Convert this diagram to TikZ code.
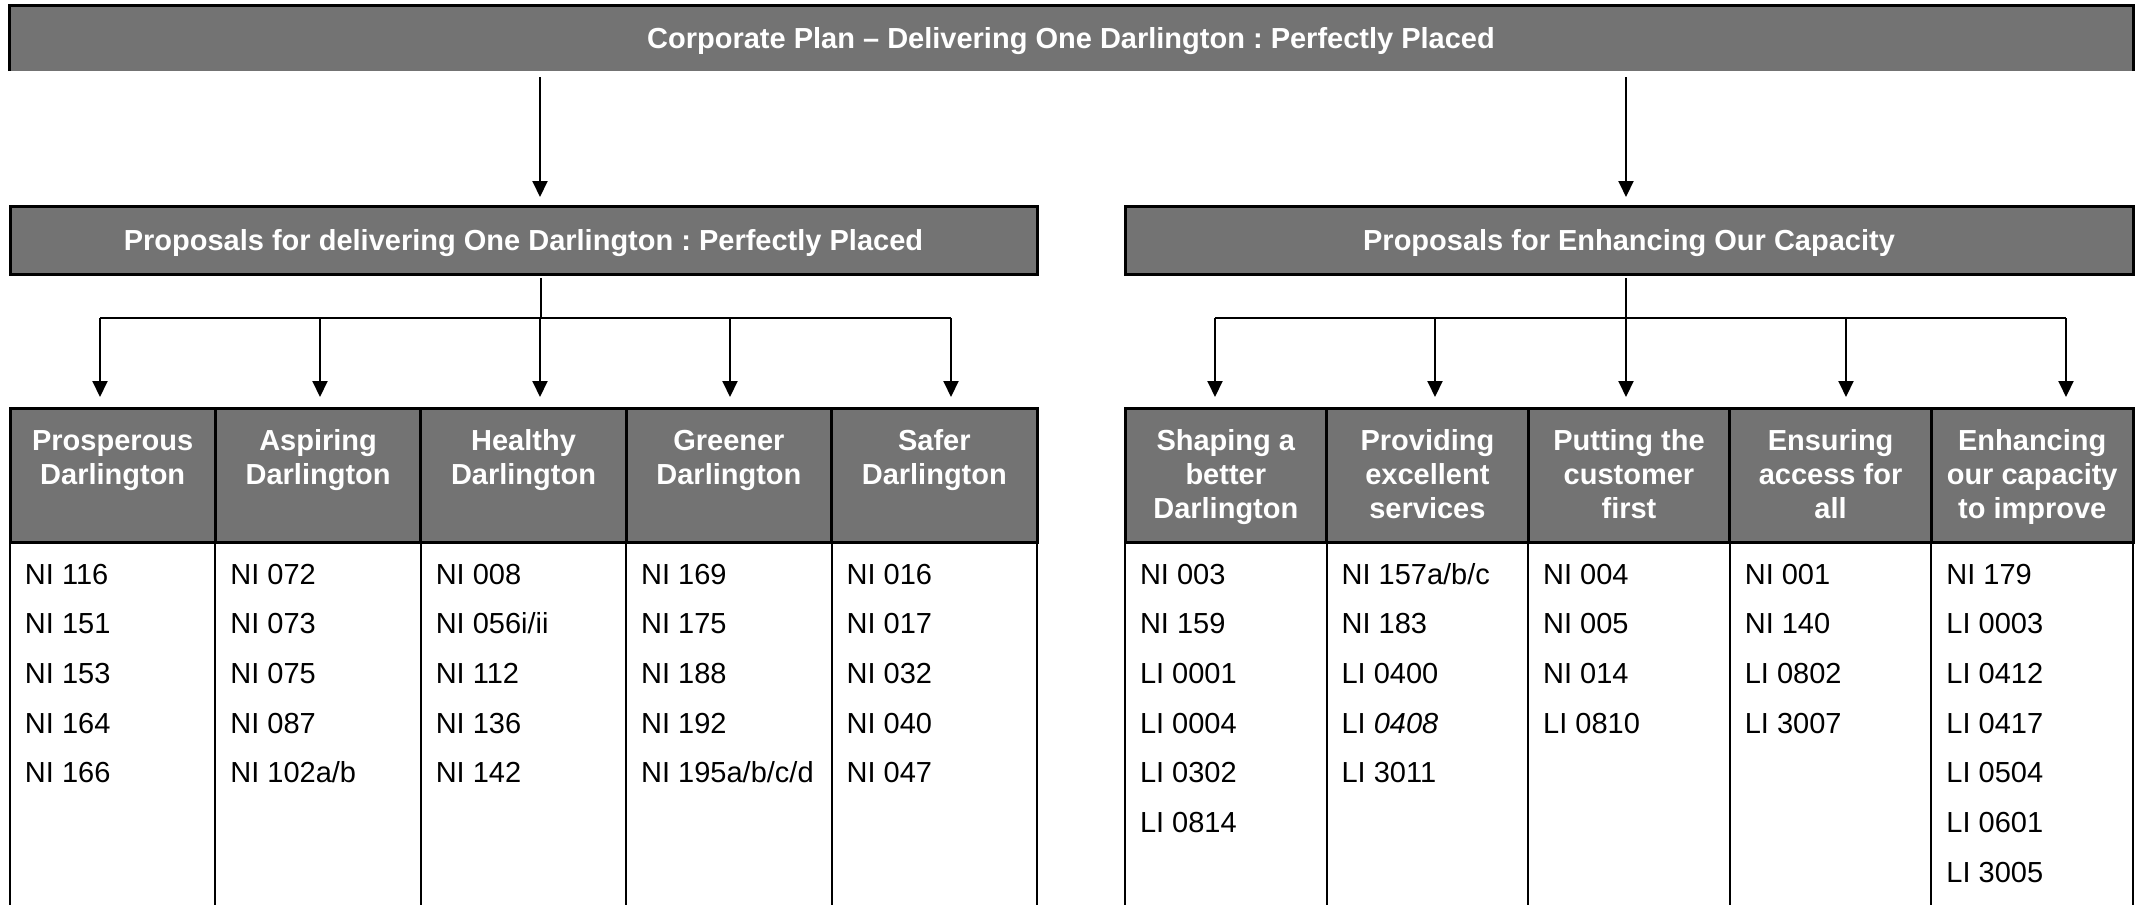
\documentclass[tikz,border=0pt]{standalone}
\usepackage{fontspec}
\setmainfont{Liberation Sans}
\usetikzlibrary{positioning, arrows.meta}
\definecolor{plan}{RGB}{115,115,115}
\frenchspacing

\newcommand{\hdtext}[2]{\parbox[c][67pt][t]{#1}{\centering\rule{0pt}{21pt}#2}}

\begin{document}
\begin{tikzpicture}[x=0.5pt, y=-0.5pt, font=\fontsize{14.5}{17}\selectfont,
  bar/.style={fill=plan, text=white, font=\fontsize{14.5}{17}\selectfont\bfseries, inner sep=0pt, outer sep=0pt},
  prop/.style={bar, draw, line width=1.5pt, minimum height=34pt, text depth=0pt},
  hd/.style={bar, draw, line width=1.5pt},
  idx/.style={align=left, inner sep=0pt, outer sep=0pt, font=\fontsize{14.5}{24.85}\selectfont},
  ln/.style={line width=1pt},
  arr/.style={ln, -{Triangle[length=8pt, width=7.5pt]}},
  node distance=0pt]

\useasboundingbox (0,0) rectangle (2143,905);

\node[bar, minimum width=1062pt, minimum height=33pt, text depth=0pt] at (1071,38) (plan) {Corporate Plan – Delivering One Darlington : Perfectly Placed};
\draw[line width=1.5pt] (plan.south west) |- (plan.north east) -- (plan.south east);

\node[prop, minimum width=513.5pt] at (523.5,240) (deliver) {Proposals for delivering One Darlington : Perfectly Placed};
\node[prop, minimum width=504pt] at (1629,240) (capacity) {Proposals for Enhancing Our Capacity};

\coordinate (dx) at (540,0);
\coordinate (cx) at (1626,0);
\draw[arr, shorten <=3pt, shorten >=4.5pt] (plan.south -| dx) -- (deliver.north -| dx);
\draw[arr, shorten <=3pt, shorten >=4.5pt] (plan.south -| cx) -- (capacity.north -| cx);

% themes
\node[hd, anchor=north west] at (10,408) (pros) {\hdtext{102.7pt}{Prosperous\\Darlington}};
\node[hd, right=of pros] (asp) {\hdtext{102.7pt}{Aspiring\\Darlington}};
\node[hd, right=of asp] (heal) {\hdtext{102.7pt}{Healthy\\Darlington}};
\node[hd, right=of heal] (green) {\hdtext{102.7pt}{Greener\\Darlington}};
\node[hd, right=of green] (safe) {\hdtext{102.7pt}{Safer\\Darlington}};

\node[hd, anchor=north west] at (1125,408) (shape) {\hdtext{100.8pt}{Shaping a\\better\\Darlington}};
\node[hd, right=of shape] (serv) {\hdtext{100.8pt}{Providing\\excellent\\services}};
\node[hd, right=of serv] (cust) {\hdtext{100.8pt}{Putting the\\customer\\first}};
\node[hd, right=of cust] (access) {\hdtext{100.8pt}{Ensuring\\access for\\all}};
\node[hd, right=of access] (improve) {\hdtext{100.8pt}{Enhancing\\our capacity\\to improve}};

\foreach \c in {pros,asp,heal,green,safe,shape,serv,cust,access,improve}
  \draw[ln] (\c.south west) -- ++(0,420) (\c.south east) -- ++(0,420);

% indicators
\node[idx, below right=0pt and 7.5pt of pros.south west] (pros-ni) {\rule{0pt}{21pt}NI 116\\NI 151\\NI 153\\NI 164\\NI 166};
\node[idx, below right=0pt and 7.5pt of asp.south west] (asp-ni) {\rule{0pt}{21pt}NI 072\\NI 073\\NI 075\\NI 087\\NI 102a/b};
\node[idx, below right=0pt and 7.5pt of heal.south west] (heal-ni) {\rule{0pt}{21pt}NI 008\\NI 056i/ii\\NI 112\\NI 136\\NI 142};
\node[idx, below right=0pt and 7.5pt of green.south west] (green-ni) {\rule{0pt}{21pt}NI 169\\NI 175\\NI 188\\NI 192\\NI 195a/b/c/d};
\node[idx, below right=0pt and 7.5pt of safe.south west] (safe-ni) {\rule{0pt}{21pt}NI 016\\NI 017\\NI 032\\NI 040\\NI 047};

\node[idx, below right=0pt and 7.5pt of shape.south west] (shape-ni) {\rule{0pt}{21pt}NI 003\\NI 159\\LI 0001\\LI 0004\\LI 0302\\LI 0814};
\node[idx, below right=0pt and 7.5pt of serv.south west] (serv-ni) {\rule{0pt}{21pt}NI 157a/b/c\\NI 183\\LI 0400\\LI \textit{0408}\\LI 3011};
\node[idx, below right=0pt and 7.5pt of cust.south west] (cust-ni) {\rule{0pt}{21pt}NI 004\\NI 005\\NI 014\\LI 0810};
\node[idx, below right=0pt and 7.5pt of access.south west] (access-ni) {\rule{0pt}{21pt}NI 001\\NI 140\\LI 0802\\LI 3007};
\node[idx, below right=0pt and 7.5pt of improve.south west] (improve-ni) {\rule{0pt}{21pt}NI 179\\LI 0003\\LI 0412\\LI 0417\\LI 0504\\LI 0601\\LI 3005};

% branch lines
\coordinate (dbus) at (541,318);
\coordinate (cbus) at (1626,318);
\draw[ln, shorten <=2pt] (deliver.south -| dbus) -- (dbus);
\draw[ln, shorten <=2pt] (capacity.south -| cbus) -- (cbus);
\draw[ln] (dbus -| 100,0) -- (dbus -| 951,0);
\draw[ln] (cbus -| 1215,0) -- (cbus -| 2066,0);
\foreach \c/\x in {pros/100, asp/320, heal/540, green/730, safe/951}
  \draw[arr, shorten >=5.5pt] (dbus -| \x,0) -- (\c.north -| \x,0);
\foreach \c/\x in {shape/1215, serv/1435, cust/1626, access/1846, improve/2066}
  \draw[arr, shorten >=5.5pt] (cbus -| \x,0) -- (\c.north -| \x,0);
\end{tikzpicture}
\end{document}
